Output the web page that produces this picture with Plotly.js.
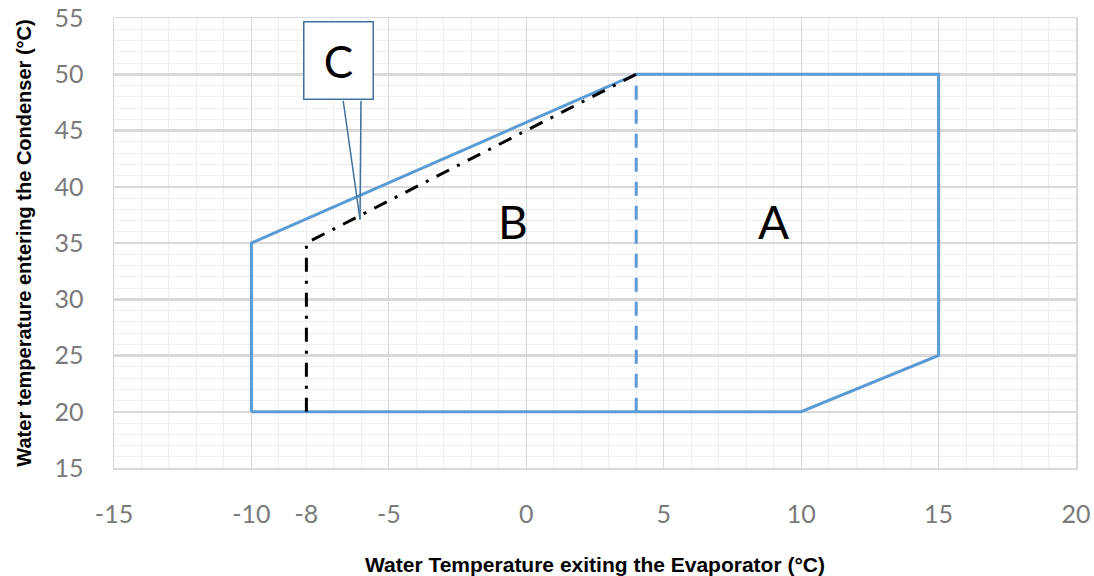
<!DOCTYPE html>
<html>
<head>
<meta charset="utf-8">
<script src="https://cdn.plot.ly/plotly-3.0.1.min.js"></script>
<style>html,body{margin:0;padding:0;background:#fff}#chart{width:1094px;height:576px}</style>
</head>
<body>
<div id="chart"></div>
<script>
// Envelope A (outer limit)
const envX = [-10, -10, 4, 15, 15, 10, -10];
const envY = [20, 35, 50, 50, 25, 20, 20];
// Boundary between A and B (dashed)
const divX = [4, 4];
const divY = [20, 50];
// Zone C limit (dash-dot)
const cX = [-8, -8, 4];
const cY = [20, 35, 50];
// Region labels
const labelText = ['B', 'A'];
const labelX = [-0.5, 9.0];
const labelY = [36.9, 36.9];
// Callout C target
const calloutText = 'C';
const calloutX = -6.05;
const calloutY = 37.1;
// Axis ticks
const xTicks = [-15, -10, -8, -5, 0, 5, 10, 15, 20];
const yTicks = [15, 20, 25, 30, 35, 40, 45, 50, 55];

const blue = '#5b9bd5';
const calloutBlue = '#41719c';
const traces = [
  {x: envX, y: envY, mode: 'lines', line: {color: blue, width: 3}, hoverinfo: 'skip'},
  {x: divX, y: divY, mode: 'lines', line: {color: blue, width: 3, dash: '14px,10px'}, hoverinfo: 'skip'},
  {x: cX, y: cY, mode: 'lines', line: {color: '#000', width: 3, dash: '14px,9px,3px,9px'}, hoverinfo: 'skip'},
  {x: [-15, 20], y: [15, 15], xaxis: 'x2', mode: 'lines', line: {width: 0}, hoverinfo: 'skip', showlegend: false}
];

const bigFont = {family: 'Lato, Open Sans, sans-serif', size: 46, color: '#000'};
const annotations = labelText.map((t, i) => ({
  x: labelX[i], y: labelY[i], text: t, showarrow: false, font: bigFont
}));
// callout wedge edges (pointer)
[[-17, -120], [1, -120]].forEach(([ax, ay]) => annotations.push({
  x: calloutX, y: calloutY, text: '', showarrow: true, ax: ax, ay: ay,
  arrowhead: 0, arrowwidth: 1.5, arrowcolor: calloutBlue, standoff: 0, startstandoff: 0
}));
// callout box
annotations.push({
  x: calloutX, y: calloutY, text: calloutText, showarrow: true,
  ax: -22, ay: -159, arrowhead: 0, arrowwidth: 0.1, arrowcolor: 'rgba(0,0,0,0)', standoff: 0,
  width: 66, height: 74, bgcolor: '#fff', bordercolor: calloutBlue, borderwidth: 1.5,
  font: {family: 'Lato, Open Sans, sans-serif', size: 44, color: '#000'}
});

const tickFont = {family: 'Lato, Open Sans, sans-serif', size: 25, color: '#7a7a7a'};
const xTitleFont = {family: 'Liberation Sans, Arial, sans-serif', size: 21, color: '#000', weight: 'bold'};
const yTitleFont = {family: 'Liberation Sans, Arial, sans-serif', size: 20, color: '#000', weight: 'bold'};

const layout = {
  width: 1094, height: 576,
  margin: {l: 114, r: 18, t: 18, b: 108},
  paper_bgcolor: '#fff', plot_bgcolor: '#fff',
  showlegend: false,
  xaxis: {
    range: [-15, 20], tickmode: 'array', tickvals: xTicks, ticktext: xTicks.map(String),
    showgrid: false, zeroline: false, showline: true, mirror: true, linecolor: '#d9d9d9', linewidth: 1.5,
    ticks: '', ticklabelstandoff: 23, tickfont: tickFont,
    minor: {tickmode: 'linear', tick0: 0, dtick: 1, showgrid: true, gridcolor: '#eeeeee', gridwidth: 1},
    title: {text: '<b>Water Temperature exiting the Evaporator (°C)</b>', font: xTitleFont, standoff: 33}
  },
  xaxis2: {
    range: [-15, 20], overlaying: 'x', dtick: 5, tick0: 0, showgrid: true, gridcolor: '#d9d9d9', gridwidth: 1.2,
    showticklabels: false, zeroline: false, ticks: '', side: 'bottom'
  },
  yaxis: {
    range: [15, 55], tickmode: 'array', tickvals: yTicks, ticktext: yTicks.map(String),
    showgrid: true, gridcolor: '#d9d9d9', gridwidth: 2.5, zeroline: false,
    showline: true, mirror: true, linecolor: '#d9d9d9', linewidth: 1.5,
    ticks: '', ticklabelstandoff: 24, tickfont: tickFont,
    minor: {tickmode: 'linear', tick0: 0, dtick: 1, showgrid: true, gridcolor: '#eeeeee', gridwidth: 1},
    title: {text: '<b>Water temperature entering the Condenser (°C)</b>', font: yTitleFont, standoff: 17}
  },
  annotations: annotations
};

Plotly.newPlot('chart', traces, layout, {staticPlot: true, displayModeBar: false});
</script>
</body>
</html>
